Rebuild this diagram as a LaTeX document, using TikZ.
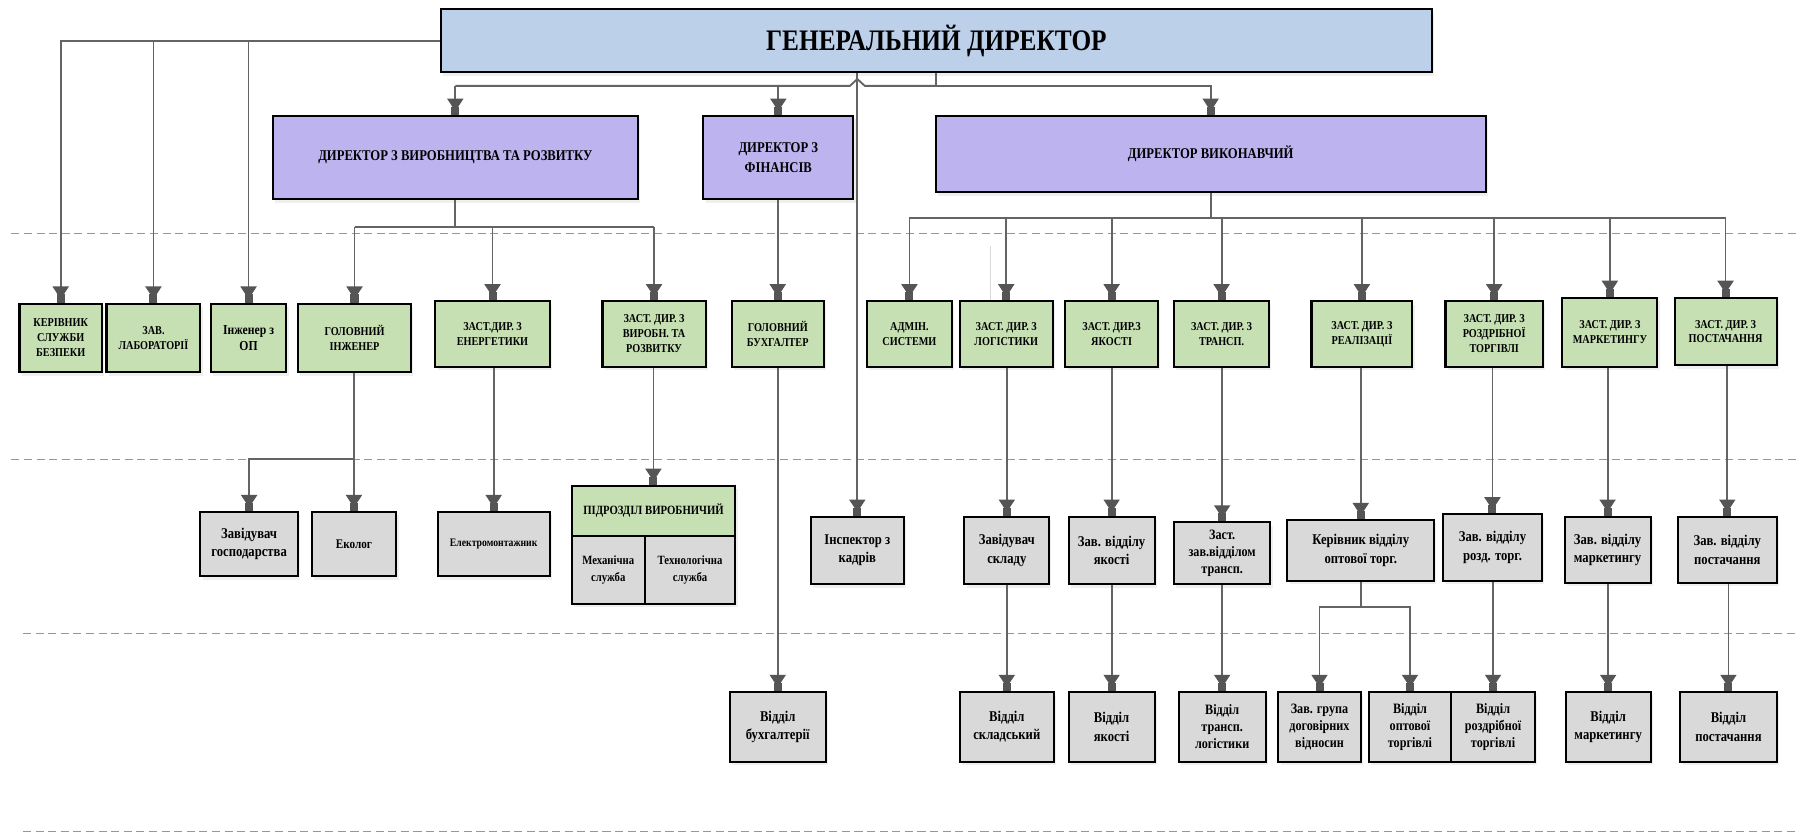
\documentclass[tikz,border=0pt]{standalone}
\usepackage{fontspec}
\setmainfont{Liberation Serif}[FakeStretch=0.85]
\usetikzlibrary{arrows.meta,shadows}
\definecolor{gdblue}{RGB}{189,208,233}
\definecolor{dirpurple}{RGB}{189,179,238}
\definecolor{boxgreen}{RGB}{198,224,180}
\definecolor{boxgray}{RGB}{217,217,217}
\definecolor{conn}{RGB}{100,100,100}
\definecolor{tipc}{RGB}{85,85,85}
\definecolor{dashc}{RGB}{150,150,150}
\begin{document}
\begin{tikzpicture}[x=1pt,y=-1pt,
  bx/.style={draw=black,line width=1.8pt,inner sep=1pt,align=center,
    drop shadow={opacity=0.12,shadow xshift=2pt,shadow yshift=-3pt}},
  gd/.style={bx,fill=gdblue,font=\fontsize{26}{30}\selectfont\bfseries},
  dir/.style={bx,fill=dirpurple,font=\fontsize{13}{17}\selectfont\bfseries},
  gr/.style={bx,fill=boxgreen,font=\fontsize{10.5}{13}\selectfont\bfseries},
  gy/.style={bx,fill=boxgray,font=\fontsize{13}{16}\selectfont\bfseries},
  sm/.style={font=\fontsize{12.5}{15}\selectfont\bfseries},
  sz/.style 2 args={minimum width=#1pt,minimum height=#2pt},
  ln/.style={draw=conn,line width=1.6pt},
  arr/.style={ln,-{Triangle[width=14pt,length=11pt,color=tipc,sep=-4pt]Rectangle[width=7pt,length=7pt,color=tipc]}},
  dashln/.style={draw=dashc,line width=1.4pt,dash pattern=on 7pt off 4pt},
]
\fill[white] (0,0) rectangle (1568,729);
\useasboundingbox (0,0) rectangle (1568,729);

% dashed separators
\draw[dashln] (10,204) -- (1568,204);
\draw[dashln] (10,401) -- (1568,401);
\draw[dashln] (20,553) -- (1568,553);
\draw[dashln] (20,726) -- (1568,726);
\draw[gray!30,line width=1pt] (865,215) -- (865,262);

% level 1-2
\node[gd,sz={865}{55}] (GD) at (817.5,35.5) {ГЕНЕРАЛЬНИЙ ДИРЕКТОР};
\node[dir,sz={319}{73}] (prod) at (397.5,137.5) {ДИРЕКТОР З ВИРОБНИЦТВА ТА РОЗВИТКУ};
\node[dir,sz={131}{73}] (fin) at (679.5,137.5) {ДИРЕКТОР З\\ФІНАНСІВ};
\node[dir,sz={480}{67}] (exec) at (1057,134.5) {ДИРЕКТОР ВИКОНАВЧИЙ};

% level 3
\node[gr,sz={72}{60}] (bez) at (53,295) {КЕРІВНИК\\СЛУЖБИ\\БЕЗПЕКИ};
\node[gr,sz={82}{60}] (lab) at (134,295) {ЗАВ.\\ЛАБОРАТОРІЇ};
\node[gr,sz={66}{60},font=\fontsize{12}{14}\selectfont\bfseries] (op) at (217,295) {Інженер з\\ОП};
\node[gr,sz={99}{60}] (ging) at (309.5,295) {ГОЛОВНИЙ\\ІНЖЕНЕР};
\node[gr,sz={100}{57}] (energ) at (430,291.5) {ЗАСТ.ДИР. З\\ЕНЕРГЕТИКИ};
\node[gr,sz={90}{57}] (vyrob) at (571,291.5) {ЗАСТ. ДИР. З\\ВИРОБН. ТА\\РОЗВИТКУ};
\node[gr,sz={80}{57}] (buh) at (679,291.5) {ГОЛОВНИЙ\\БУХГАЛТЕР};
\node[gr,sz={74}{57}] (admin) at (794,291.5) {АДМІН.\\СИСТЕМИ};
\node[gr,sz={81}{57}] (logist) at (878.5,291.5) {ЗАСТ. ДИР. З\\ЛОГІСТИКИ};
\node[gr,sz={81}{57}] (yakist) at (970.5,291.5) {ЗАСТ. ДИР.З\\ЯКОСТІ};
\node[gr,sz={83}{57}] (transp) at (1066.5,291.5) {ЗАСТ. ДИР. З\\ТРАНСП.};
\node[gr,sz={88}{57}] (real) at (1189,291.5) {ЗАСТ. ДИР. З\\РЕАЛІЗАЦІЇ};
\node[gr,sz={85}{57}] (rozdr) at (1304.5,291.5) {ЗАСТ. ДИР. З\\РОЗДРІБНОЇ\\ТОРГІВЛІ};
\node[gr,sz={83}{60}] (mark) at (1405.5,290) {ЗАСТ. ДИР. З\\МАРКЕТИНГУ};
\node[gr,sz={89}{59}] (post) at (1506.5,289.5) {ЗАСТ. ДИР. З\\ПОСТАЧАННЯ};

% level 4
\node[gy,sz={85}{56}] (zavgosp) at (217.5,475) {Завідувач\\господарства};
\node[gy,sz={74}{56},font=\fontsize{11.5}{14}\selectfont\bfseries] (ekolog) at (309,475) {Еколог};
\node[gy,sz={98}{56},font=\fontsize{10}{12}\selectfont\bfseries] (elektro) at (431,475) {Електромонтажник};
\node[gr,sz={143}{44},font=\fontsize{11}{13}\selectfont\bfseries] (pidr) at (570.5,446) {ПІДРОЗДІЛ ВИРОБНИЧИЙ};
\node[gy,sz={64}{59},font=\fontsize{11}{15}\selectfont\bfseries] (mech) at (531,497.5) {Механічна\\служба};
\node[gy,sz={79}{59},font=\fontsize{11}{15}\selectfont\bfseries] (tech) at (602.5,497.5) {Технологічна\\служба};
\node[gy,sz={81}{59}] (inspektor) at (748.5,480.5) {Інспектор з\\кадрів};
\node[gy,sz={74}{59}] (zavsklad) at (879,480.5) {Завідувач\\складу};
\node[gy,sz={75}{59}] (zavyak) at (970.5,480.5) {Зав. відділу\\якості};
\node[gy,sz={84}{54},sm] (zasttr) at (1067,483) {Заст.\\зав.відділом\\трансп.};
\node[gy,sz={128}{53}] (kerivopt) at (1188,480.5) {Керівник відділу\\оптової торг.};
\node[gy,sz={86}{58}] (zavrozd) at (1303,478) {Зав. відділу\\розд. торг.};
\node[gy,sz={75}{58}] (zavmark) at (1403.5,480) {Зав. відділу\\маркетингу};
\node[gy,sz={86}{58}] (zavpost) at (1508,480) {Зав. відділу\\постачання};

% level 5
\node[gy,sz={84}{61}] (vbuh) at (679,634.5) {Відділ\\бухгалтерії};
\node[gy,sz={82}{61}] (vsklad) at (879,634.5) {Відділ\\складський};
\node[gy,sz={75}{61}] (vyak) at (970.5,634.5) {Відділ\\якості};
\node[gy,sz={76}{61},sm] (vtransp) at (1067,634.5) {Відділ\\трансп.\\логістики};
\node[gy,sz={72}{61},sm] (zavgrupa) at (1152,634.5) {Зав. група\\договірних\\відносин};
\node[gy,sz={72}{61},sm] (vopt) at (1231,634.5) {Відділ\\оптової\\торгівлі};
\node[gy,sz={73}{61},sm] (vrozd) at (1303.5,634.5) {Відділ\\роздрібної\\торгівлі};
\node[gy,sz={74}{61}] (vmark) at (1404,634.5) {Відділ\\маркетингу};
\node[gy,sz={84}{61}] (vpost) at (1509,634.5) {Відділ\\постачання};

% helper coordinates
\coordinate (hopL) at (742,75);
\coordinate (hopT) at (748.5,69);
\coordinate (hopR) at (755,75);
\coordinate (pby) at (0,198);
\coordinate (eby) at (0,190);
\coordinate (gby) at (0,401);
\coordinate (oby) at (0,530);

% GD connectors
\draw[arr] (GD.west) -| (bez.north);
\draw[arr] (lab.north |- GD.west) -- (lab.north);
\draw[arr] (op.north |- GD.west) -- (op.north);
\draw[ln] (GD.south) -- (GD.south |- hopR);
\draw[arr] (GD.south |- hopR) -| (exec.north);
\draw[ln] (GD.south |- hopR) -- (hopR) -- (hopT) -- (hopL) -- (prod.north |- hopL);
\draw[arr] (prod.north |- hopL) -- (prod.north);
\draw[arr] (fin.north |- hopL) -- (fin.north);
\draw[arr] (inspektor.north |- GD.south) -- (inspektor.north);

% production director
\draw[ln] (prod.south) -- (prod.south |- pby);
\draw[ln] (ging.north |- pby) -- (vyrob.north |- pby);
\foreach \n in {ging,energ,vyrob} \draw[arr] (\n.north |- pby) -- (\n.north);

% finance
\draw[arr] (buh.north |- fin.south) -- (buh.north);
\draw[arr] (vbuh.north |- buh.south) -- (vbuh.north);

% executive director
\draw[ln] (exec.south) -- (exec.south |- eby);
\draw[ln] (admin.north |- eby) -- (post.north |- eby);
\foreach \n in {admin,logist,yakist,transp,real,rozdr,mark,post} \draw[arr] (\n.north |- eby) -- (\n.north);

% level 3 -> 4
\draw[arr] (ekolog.north |- ging.south) -- (ekolog.north);
\draw[arr] (ekolog.north |- gby) -| (zavgosp.north);
\draw[arr] (elektro.north |- energ.south) -- (elektro.north);
\draw[arr] (pidr.north |- vyrob.south) -- (pidr.north);
\foreach \a/\b in {logist/zavsklad,yakist/zavyak,transp/zasttr,real/kerivopt,rozdr/zavrozd,mark/zavmark,post/zavpost}
  \draw[arr] (\b.north |- \a.south) -- (\b.north);

% level 4 -> 5
\foreach \a/\b in {zavsklad/vsklad,zavyak/vyak,zasttr/vtransp,zavrozd/vrozd,zavmark/vmark,zavpost/vpost}
  \draw[arr] (\b.north |- \a.south) -- (\b.north);
\draw[ln] (kerivopt.south) -- (kerivopt.south |- oby);
\draw[arr] (kerivopt.south |- oby) -| (zavgrupa.north);
\draw[arr] (kerivopt.south |- oby) -| (vopt.north);
\end{tikzpicture}
\end{document}
